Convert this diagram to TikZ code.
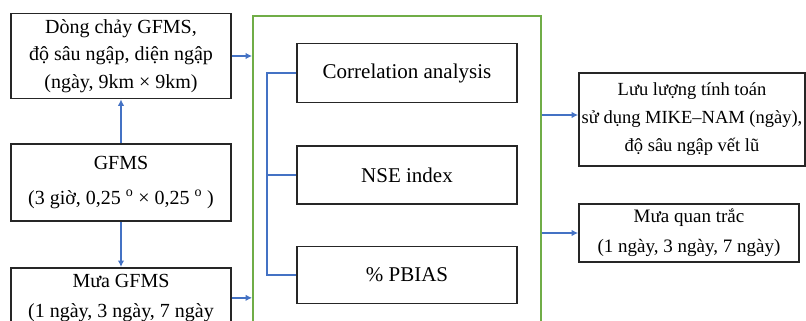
\documentclass[tikz,border=0pt]{standalone}
\usepackage{fontspec}
\setmainfont{Liberation Serif}
\usepackage{tikz}
\usetikzlibrary{arrows.meta}

\definecolor{linkblue}{HTML}{4472C4}
\definecolor{evalgreen}{HTML}{70AD47}

\begin{document}
\begin{tikzpicture}[x=1pt, y=-1pt,
    databox/.style={draw=black!85, line width=1.7pt, align=center, inner sep=0pt},
    leftfont/.style={font=\fontsize{20}{27.5}\selectfont},
    midfont/.style={font=\fontsize{21}{25}\selectfont},
    rightfont/.style={font=\fontsize{18.5}{28}\selectfont},
    arr/.style={linkblue, line width=1.8pt, -{Latex[length=6.5pt, width=6.5pt]}},
    link/.style={linkblue, line width=1.8pt}]

    \useasboundingbox (0,0) rectangle (806,321);
    \clip (0,0) rectangle (806,321);

    % ============================================================
    % EVALUATION FRAME
    % ============================================================
    \node[draw=evalgreen, line width=1.8pt, minimum width=288pt, minimum height=330pt]
        (evalbox) at (397,181) {};

    % ============================================================
    % GFMS INPUTS (LEFT)
    % ============================================================
    \node[databox, leftfont, minimum width=220pt, minimum height=85pt] (flow) at (121,56)
        {Dòng chảy GFMS,\\độ sâu ngập, diện ngập\\(ngày, 9km × 9km)};
    \node[databox, font=\fontsize{20}{35}\selectfont,
        minimum width=220pt, minimum height=77pt] (gfms) at (121,182.5)
        {GFMS\\(3 giờ, 0,25 \textsuperscript{o} × 0,25 \textsuperscript{o} )};
    \node[databox, font=\fontsize{20}{30}\selectfont,
        minimum width=220pt, minimum height=60pt, anchor=north] (raingfms) at (121,267)
        {Mưa GFMS\\(1 ngày, 3 ngày, 7 ngày};

    \draw[arr] (gfms.north) -- (flow.south);
    \draw[arr] (gfms.south) -- (raingfms.north);
    \draw[arr] (flow.east) -- (flow.east -| evalbox.west);
    \draw[arr] (raingfms.east) -- (raingfms.east -| evalbox.west);

    % ============================================================
    % STATISTICAL MEASURES
    % ============================================================
    \node[databox, midfont, minimum width=220pt, minimum height=59pt] (corr) at (407,73)
        {Correlation analysis};
    \node[databox, midfont, minimum width=220pt, minimum height=58pt] (nse) at (407,175)
        {NSE index};
    \node[databox, midfont, minimum width=220pt, minimum height=57pt] (pbias) at (407,275)
        {\% PBIAS};

    \draw[link] (corr.west) -- ++(-29,0) |- (pbias.west);
    \draw[link] (nse.west) -- ++(-29,0);

    % ============================================================
    % OBSERVED DATA (RIGHT)
    % ============================================================
    \node[databox, rightfont, minimum width=226pt, minimum height=93pt] (simflow) at (692,119.5)
        {Lưu lượng tính toán\\sử dụng MIKE–NAM (ngày),\\độ sâu ngập vết lũ};
    \node[databox, font=\fontsize{19}{30}\selectfont,
        minimum width=220pt, minimum height=58pt] (obsrain) at (689,233)
        {Mưa quan trắc\\(1 ngày, 3 ngày, 7 ngày)};

    \draw[arr] ([yshift=4.5pt]evalbox.east |- simflow.west) -- ([yshift=4.5pt]simflow.west);
    \draw[arr] (evalbox.east |- obsrain.west) -- (obsrain.west);

\end{tikzpicture}
\end{document}
